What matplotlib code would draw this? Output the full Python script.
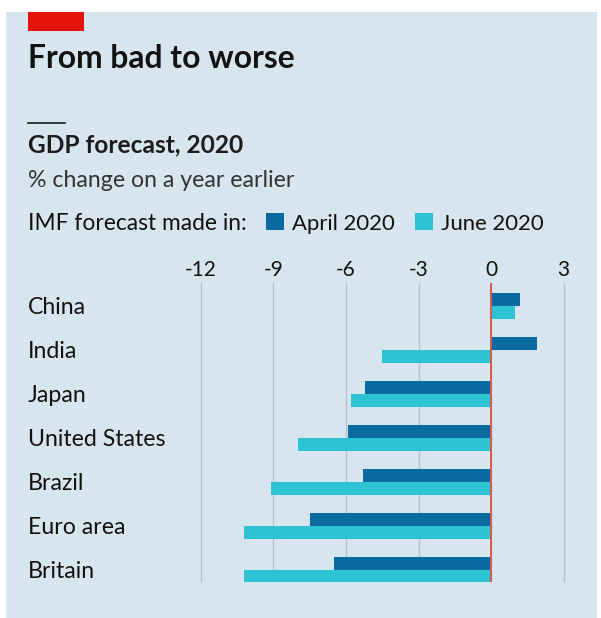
import matplotlib
matplotlib.use("Agg")
import matplotlib.pyplot as plt
from matplotlib.patches import Rectangle
from matplotlib.lines import Line2D
import numpy as np

countries = ["China", "India", "Japan", "United States", "Brazil", "Euro area", "Britain"]
april_2020 = [1.2, 1.9, -5.2, -5.9, -5.3, -7.5, -6.5]
june_2020 = [1.0, -4.5, -5.8, -8.0, -9.1, -10.2, -10.2]
ticks = [-12, -9, -6, -3, 0, 3]

W, H = 601, 618
DPI = 100
BG = "#d7e5ee"
DARK = "#0b6a9f"
LIGHT = "#2ec3d2"
TXT = "#121212"
BODY = ["Lato", "DejaVu Sans"]
TITLE = ["Lato", "DejaVu Sans"]
BUMP = 1.03

fig = plt.figure(figsize=(W / DPI, H / DPI), dpi=DPI, facecolor="white")
renderer = fig.canvas.get_renderer()

def fx(x):
    return x / W

def fy(y):
    return 1 - y / H

def pt(px):
    return px * 72 / DPI

def fit_size(s, target_px, **kw):
    t = fig.text(0, 0, s, fontsize=20, **kw)
    w = t.get_window_extent(renderer).width
    t.remove()
    return 20 * target_px / w

def ftext(x, y, s, target_w, bump=BUMP, **kw):
    size = fit_size(s, target_w, **kw) * bump
    return fig.text(fx(x), fy(y), s, fontsize=size, va="baseline", ha="left", **kw)

# background panel
fig.patches.append(Rectangle((fx(6), fy(618)), fx(597) - fx(6), fy(12) - fy(618),
                             transform=fig.transFigure, facecolor=BG, edgecolor="none", zorder=0))
# red tag
fig.patches.append(Rectangle((fx(28), fy(30.7)), fx(83.6) - fx(28), fy(12) - fy(30.7),
                             transform=fig.transFigure, facecolor="#e3120b", edgecolor="none", zorder=1))
# small rule
fig.lines.append(Line2D([fx(28), fx(65)], [fy(123.3), fy(123.3)], transform=fig.transFigure,
                        color=TXT, lw=pt(1.6), zorder=1))

ftext(27.5, 68.3, "From bad to worse", 266, bump=1.0, family=TITLE, fontweight="bold", color=TXT)
ftext(28, 152.7, "GDP forecast, 2020", 216, bump=1.0, family=BODY, fontweight="bold", color="#1c1c1c")
ftext(28, 186.7, "% change on a year earlier", 259, family=BODY, color="#333333")
ftext(28, 230, "IMF forecast made in:", 218, bump=1.0, family=BODY, color=TXT)

# legend swatches
leg_size = fit_size("April 2020", 100, family=BODY) * BUMP
for (x0, x1), col, lab, tx in [((265.8, 283.9), DARK, "April 2020", 292),
                               ((415, 433), LIGHT, "June 2020", 441)]:
    fig.patches.append(Rectangle((fx(x0), fy(230)), fx(x1) - fx(x0), fy(213) - fy(230),
                                 transform=fig.transFigure, facecolor=col, edgecolor="none", zorder=1))
    fig.text(fx(tx), fy(230), lab, family=BODY, fontsize=leg_size, color=TXT,
             va="baseline", ha="left")

# axes geometry
px_per_unit = (563.7 - 200.7) / 15
xmin, xmax = -12.3, 3.3
ax_left = 200.7 - (-12 - xmin) * px_per_unit
ax_right = 563.7 + (xmax - 3) * px_per_unit
ax_top, ax_bot = 283, 582
group_px = 44
center0 = 306
ytop = (ax_top - center0) / group_px
ybot = (ax_bot - center0) / group_px

ax = fig.add_axes([fx(ax_left), fy(ax_bot), fx(ax_right) - fx(ax_left), fy(ax_top) - fy(ax_bot)])
ax.set_zorder(5)
ax.set_facecolor("none")
ax.set_xlim(xmin, xmax)
ax.set_ylim(ybot, ytop)

h = 12.7 / group_px
y = np.arange(len(countries))
ax.barh(y - h / 2, april_2020, height=h, color=DARK, zorder=2)
ax.barh(y + h / 2, june_2020, height=h, color=LIGHT, zorder=2)
ax.axvline(0, color="#db5a50", lw=pt(2), zorder=3)

for s in ax.spines.values():
    s.set_visible(False)
tick_size = fit_size("-12", 31, family=BODY) * BUMP
ax.set_xticks(ticks)
ax.set_xticklabels([str(t) for t in ticks], family=BODY, fontsize=tick_size, color=TXT)
ax.xaxis.set_ticks_position("top")
ax.tick_params(axis="x", length=0, pad=pt(3))
ax.grid(axis="x", color="#b7c3cc", lw=pt(1.4), zorder=1)
ax.set_axisbelow(True)

cty_size = fit_size("United States", 134, family=BODY) * BUMP
ax.set_yticks(y)
ax.set_yticklabels(countries, family=BODY, fontsize=cty_size, color=TXT, ha="left")
ax.tick_params(axis="y", length=0, pad=pt(ax_left - 28))

fig.savefig("out.png", dpi=DPI, facecolor="white")
